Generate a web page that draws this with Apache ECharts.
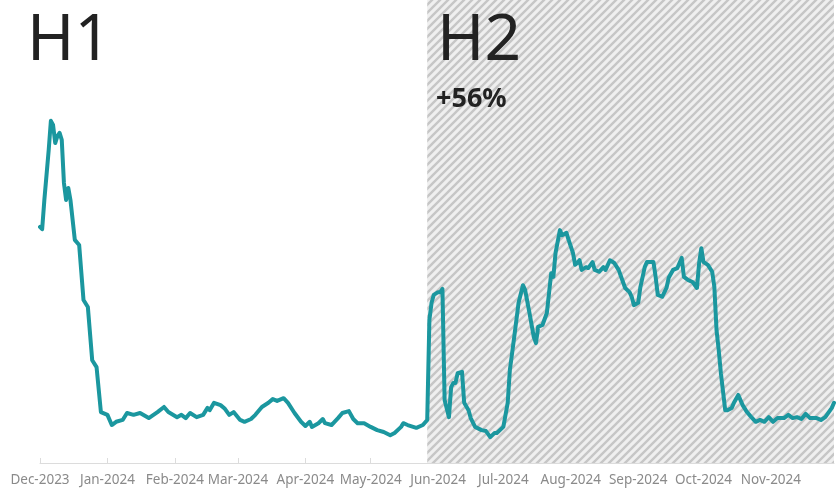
<!DOCTYPE html>
<html>
<head>
<meta charset="utf-8">
<script src="https://cdn.jsdelivr.net/npm/echarts@6/dist/echarts.min.js"></script>
<style>
  html, body { margin: 0; padding: 0; background: #fff; }
  #chart { width: 840px; height: 496px; }
</style>
</head>
<body>
<div id="chart"></div>
<script>
// 日期（每个观测点）
const dates = [
  '2023-12-01', '2023-12-02', '2023-12-03', '2023-12-05', '2023-12-06', '2023-12-07', '2023-12-08',
  '2023-12-09', '2023-12-10', '2023-12-11', '2023-12-12', '2023-12-13', '2023-12-14', '2023-12-15',
  '2023-12-17', '2023-12-19', '2023-12-21', '2023-12-23', '2023-12-25', '2023-12-27', '2023-12-29',
  '2024-01-01', '2024-01-03', '2024-01-05', '2024-01-08', '2024-01-10', '2024-01-13', '2024-01-16',
  '2024-01-20', '2024-01-24', '2024-01-27', '2024-01-29', '2024-02-02', '2024-02-04', '2024-02-06',
  '2024-02-08', '2024-02-11', '2024-02-14', '2024-02-16', '2024-02-17', '2024-02-19', '2024-02-22',
  '2024-02-24', '2024-02-26', '2024-02-28', '2024-03-02', '2024-03-04', '2024-03-07', '2024-03-09',
  '2024-03-12', '2024-03-15', '2024-03-17', '2024-03-19', '2024-03-22', '2024-03-24', '2024-03-27',
  '2024-03-30', '2024-04-01', '2024-04-03', '2024-04-04', '2024-04-07', '2024-04-09', '2024-04-10',
  '2024-04-13', '2024-04-16', '2024-04-18', '2024-04-21', '2024-04-23', '2024-04-25', '2024-04-28',
  '2024-05-01', '2024-05-04', '2024-05-07', '2024-05-10', '2024-05-12', '2024-05-15', '2024-05-16',
  '2024-05-18', '2024-05-22', '2024-05-25', '2024-05-27', '2024-05-28', '2024-05-29', '2024-05-30',
  '2024-06-01', '2024-06-02', '2024-06-03', '2024-06-04', '2024-06-06', '2024-06-07', '2024-06-08',
  '2024-06-09', '2024-06-10', '2024-06-12', '2024-06-13', '2024-06-15', '2024-06-16', '2024-06-18',
  '2024-06-21', '2024-06-23', '2024-06-25', '2024-06-27', '2024-06-28', '2024-07-01', '2024-07-03',
  '2024-07-04', '2024-07-06', '2024-07-08', '2024-07-10', '2024-07-11', '2024-07-13', '2024-07-15',
  '2024-07-16', '2024-07-17', '2024-07-19', '2024-07-21', '2024-07-22', '2024-07-23', '2024-07-24',
  '2024-07-25', '2024-07-27', '2024-07-28', '2024-07-30', '2024-07-31', '2024-08-02', '2024-08-03',
  '2024-08-04', '2024-08-05', '2024-08-06', '2024-08-08', '2024-08-09', '2024-08-11', '2024-08-12',
  '2024-08-14', '2024-08-16', '2024-08-17', '2024-08-19', '2024-08-21', '2024-08-23', '2024-08-25',
  '2024-08-26', '2024-08-28', '2024-08-29', '2024-08-30', '2024-09-01', '2024-09-02', '2024-09-04',
  '2024-09-05', '2024-09-08', '2024-09-09', '2024-09-10', '2024-09-12', '2024-09-14', '2024-09-15',
  '2024-09-17', '2024-09-19', '2024-09-21', '2024-09-22', '2024-09-24', '2024-09-26', '2024-09-28',
  '2024-09-29', '2024-09-30', '2024-10-01', '2024-10-03', '2024-10-05', '2024-10-06', '2024-10-07',
  '2024-10-08', '2024-10-09', '2024-10-11', '2024-10-12', '2024-10-14', '2024-10-15', '2024-10-17',
  '2024-10-19', '2024-10-21', '2024-10-23', '2024-10-25', '2024-10-27', '2024-10-29', '2024-10-31',
  '2024-11-02', '2024-11-04', '2024-11-07', '2024-11-09', '2024-11-11', '2024-11-13', '2024-11-15',
  '2024-11-17', '2024-11-19', '2024-11-22', '2024-11-24', '2024-11-26', '2024-11-29', '2024-11-30'
]
// 数值（与日期一一对应）
const values = [
  51.0, 50.5, 56.8, 67.6, 73.9, 73.0, 69.1,
  70.6, 71.3, 69.8, 60.5, 56.8, 59.4, 56.8,
  48.2, 47.1, 35.2, 33.7, 22.2, 20.7, 11.0,
  10.4, 8.2, 8.9, 9.3, 10.8, 10.4, 10.8,
  9.7, 11.0, 12.1, 11.0, 9.9, 10.4, 9.7,
  10.8, 9.9, 10.4, 11.9, 11.4, 13.0, 12.5,
  11.7, 10.4, 11.0, 9.3, 8.9, 9.5, 10.4,
  12.1, 13.0, 13.8, 13.4, 14.0, 13.0, 10.8,
  8.9, 8.0, 8.9, 7.8, 8.6, 9.5, 8.6,
  8.2, 9.7, 10.8, 11.2, 9.5, 8.6, 8.6,
  7.8, 7.1, 6.7, 6.0, 6.5, 7.8, 8.6,
  8.2, 7.6, 8.2, 9.3, 30.9, 34.6, 36.3,
  36.9, 36.9, 37.6, 13.6, 9.9, 16.4, 17.3,
  17.3, 19.4, 19.7, 13.0, 11.4, 9.7, 7.8,
  7.1, 6.9, 5.6, 6.5, 6.5, 7.8, 13.0,
  20.1, 27.2, 34.6, 38.4, 37.4, 32.4, 27.2,
  25.9, 29.4, 29.8, 32.4, 36.7, 41.0, 40.2,
  45.4, 50.3, 49.2, 49.7, 48.2, 45.4, 42.8,
  43.2, 43.8, 41.7, 42.3, 42.1, 43.4, 41.7,
  41.3, 42.3, 41.7, 43.8, 43.2, 41.7, 39.1,
  37.8, 36.9, 35.9, 34.1, 34.6, 38.0, 42.3,
  43.4, 43.4, 40.2, 36.3, 35.9, 37.8, 40.0,
  41.7, 42.1, 44.3, 40.2, 39.5, 39.1, 37.8,
  43.2, 46.4, 43.4, 42.8, 41.3, 38.0, 28.7,
  24.4, 19.4, 11.4, 11.4, 11.9, 13.0, 14.7,
  12.5, 11.0, 9.9, 8.9, 9.3, 8.9, 9.9,
  8.9, 9.7, 9.7, 10.4, 9.7, 9.9, 9.5,
  10.6, 9.7, 9.7, 9.3, 9.9, 11.9, 13.0
]
// 分段标注
const PERIOD_LABELS = ['H1', 'H2']
const H2_RANGE = ['2024-05-27', '2024-11-30']
const H2_CHANGE = '+56%'
const MONTHS = ['Jan', 'Feb', 'Mar', 'Apr', 'May', 'Jun', 'Jul', 'Aug', 'Sep', 'Oct', 'Nov', 'Dec']

const LINE_COLOR = '#1b979f'
const TEXT_FONT = '"Noto Sans", "Open Sans", sans-serif'

// 斜线填充图案
function makeHatch() {
  const size = 8
  const cvs = document.createElement('canvas')
  cvs.width = size
  cvs.height = size
  const ctx = cvs.getContext('2d')
  ctx.fillStyle = '#efefef'
  ctx.fillRect(0, 0, size, size)
  ctx.strokeStyle = '#c6c6c6'
  ctx.lineWidth = 2.4
  ctx.beginPath()
  ctx.moveTo(-2, size + 2)
  ctx.lineTo(size + 2, -2)
  ctx.moveTo(-2, 2)
  ctx.lineTo(2, -2)
  ctx.moveTo(size - 2, size + 2)
  ctx.lineTo(size + 2, size - 2)
  ctx.stroke()
  return cvs
}

const chart = echarts.init(document.getElementById('chart'))

const option = {
  animation: false,
  grid: { left: 40, right: 6, top: 0, bottom: 33, containLabel: false },
  xAxis: {
    type: 'time',
    min: '2023-12-01',
    max: '2024-11-30',
    splitNumber: 12,
    minInterval: 28 * 86400000,
    maxInterval: 31 * 86400000,
    axisLine: { lineStyle: { color: '#dcdcdc', width: 1 } },
    axisTick: { show: true, inside: true, length: 5, lineStyle: { color: '#dcdcdc' } },
    splitLine: { show: false },
    axisLabel: {
      color: '#8a8a8a',
      fontSize: 13.5,
      fontFamily: TEXT_FONT,
      margin: 10,
      hideOverlap: false,
      showMinLabel: true,
      formatter: (val) => {
        const d = new Date(val)
        return MONTHS[d.getMonth()] + '-' + d.getFullYear()
      }
    }
  },
  yAxis: {
    type: 'value',
    min: 0,
    max: 100,
    show: false,
    splitLine: { show: false }
  },
  series: [
    {
      type: 'line',
      data: dates.map((d, i) => [d, values[i]]),
      showSymbol: false,
      symbol: 'none',
      lineStyle: { color: LINE_COLOR, width: 4, join: 'round', cap: 'round' },
      markArea: {
        silent: true,
        itemStyle: { color: { image: makeHatch(), repeat: 'repeat' } },
        data: [[{ xAxis: H2_RANGE[0] }, { xAxis: H2_RANGE[1] }]]
      }
    }
  ],
  graphic: [
    {
      type: 'text',
      left: 27,
      top: 10,
      z: 100,
      style: { text: PERIOD_LABELS[0], font: '400 64px ' + TEXT_FONT, fill: '#222' }
    },
    {
      type: 'text',
      left: 437,
      top: 10,
      z: 100,
      style: { text: PERIOD_LABELS[1], font: '400 64px ' + TEXT_FONT, fill: '#222' }
    },
    {
      type: 'text',
      left: 436,
      top: 86,
      z: 100,
      style: { text: H2_CHANGE, font: '700 27px ' + TEXT_FONT, fill: '#222' }
    }
  ]
}

chart.setOption(option)
</script>
</body>
</html>
